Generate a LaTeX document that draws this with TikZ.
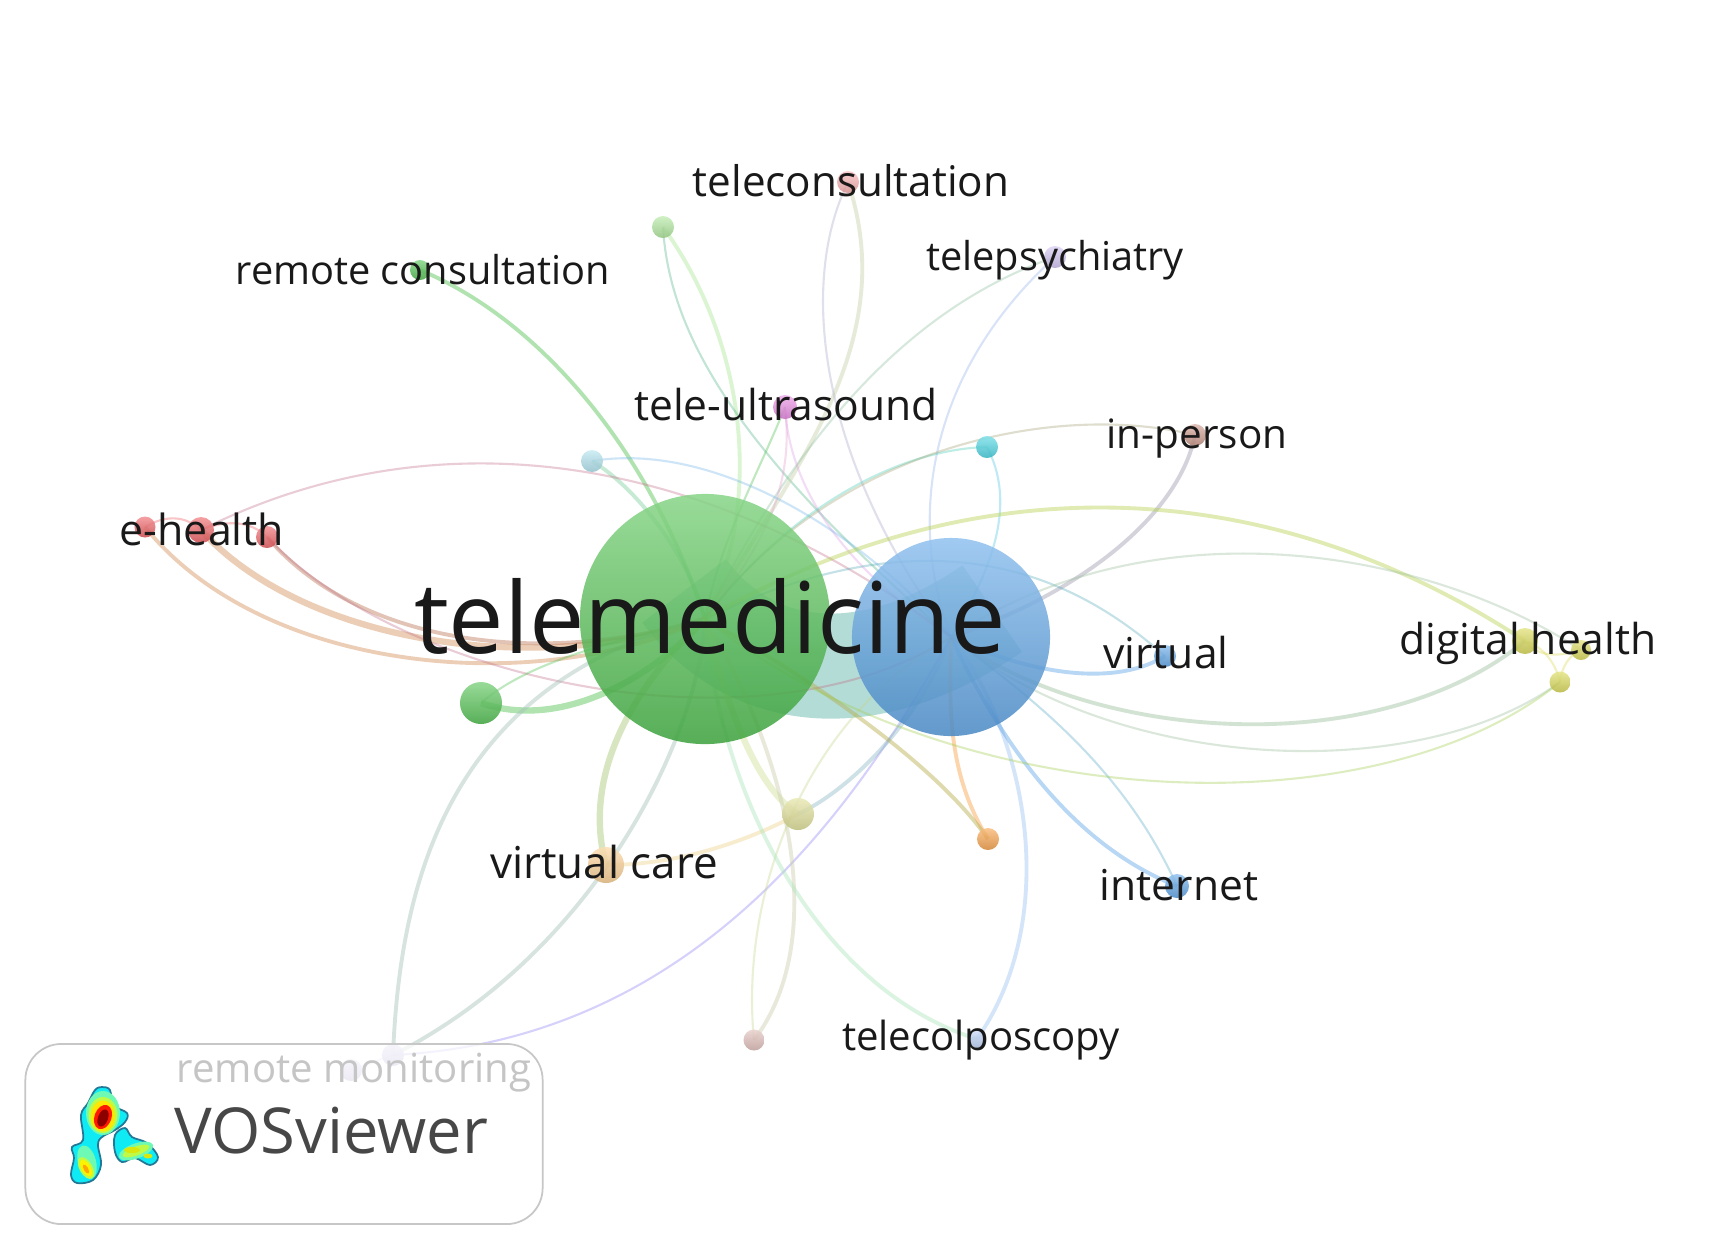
\documentclass[tikz,border=0pt]{standalone}
\usepackage{fontspec}
\setmainfont{Open Sans}
\usetikzlibrary{backgrounds}
\definecolor{cgreen}{RGB}{70,190,70}
\definecolor{cpale}{RGB}{170,230,150}
\definecolor{cblue}{RGB}{85,160,230}
\definecolor{cred}{RGB}{238,85,90}
\definecolor{cblush}{RGB}{248,170,170}
\definecolor{cpink}{RGB}{232,130,225}
\definecolor{clilac}{RGB}{205,190,240}
\definecolor{ccyan}{RGB}{60,210,225}
\definecolor{csky}{RGB}{170,225,238}
\definecolor{crust}{RGB}{200,145,130}
\definecolor{crose}{RGB}{222,185,180}
\definecolor{cyellow}{RGB}{215,215,75}
\definecolor{ckhaki}{RGB}{222,222,145}
\definecolor{ctan}{RGB}{252,205,140}
\definecolor{cpeach}{RGB}{210,140,85}
\definecolor{corange}{RGB}{248,155,60}
\definecolor{ccolpo}{RGB}{185,208,248}
\definecolor{cink}{RGB}{25,25,25}
\definecolor{heatcyan}{RGB}{15,235,245}
\definecolor{heatedge}{RGB}{35,120,150}
\definecolor{heatmint}{RGB}{110,250,180}
\definecolor{heatlime}{RGB}{190,250,70}
\tikzset{
    bubble/.style={circle,inner sep=0pt,opacity=.85,top color=#1!65!white,bottom color=#1!85!black},
    wordlabel/.style={anchor=base,inner sep=0pt,text=cink,font=\fontsize{#1}{#1}\selectfont},
    thinedge/.style={draw=#1,line width=.6pt,draw opacity=.34},
    midedge/.style={draw=#1,line width=1.1pt,draw opacity=.42},
    thickedge/.style={draw=#1,line width=1.8pt,draw opacity=.42},
}
\begin{document}
\begin{tikzpicture}[x=.01cm,y=-.01cm]
        \node[bubble=cgreen,minimum size=2.5cm] (tele) at (705,619) {};
        \node[bubble=cblue,minimum size=1.98cm] (blue) at (951,637) {};
        \node[bubble=cgreen,minimum size=.42cm] (dot) at (481,703) {};
        \node[bubble=ctan,minimum size=.36cm] (care) at (606,865) {};
        \node[bubble=ckhaki,minimum size=.32cm] (khaki) at (798,814) {};
        \node[bubble=corange,minimum size=.22cm] (orange) at (988,839) {};
        \node[bubble=cblue,minimum size=.24cm] (internet) at (1177,886) {};
        \node[bubble=cblue,minimum size=.22cm] (virtual) at (1165,656) {};
        \node[bubble=cyellow,minimum size=.26cm] (digitala) at (1525,641) {};
        \node[bubble=cyellow,minimum size=.2cm] (digitalb) at (1581,650) {};
        \node[bubble=cyellow,minimum size=.21cm] (digitalc) at (1560,682) {};
        \node[bubble=crust,minimum size=.22cm] (person) at (1195,435) {};
        \node[bubble=ccyan,minimum size=.22cm] (cyan) at (987,447) {};
        \node[bubble=cpink,minimum size=.24cm] (ultra) at (785,407) {};
        \node[bubble=csky,minimum size=.22cm] (sky) at (592,461) {};
        \node[bubble=cblush,minimum size=.22cm] (consult) at (848,182) {};
        \node[bubble=cpale,minimum size=.22cm] (pale) at (663,227) {};
        \node[bubble=cgreen,minimum size=.2cm] (remote) at (420,270) {};
        \node[bubble=clilac,minimum size=.22cm] (psych) at (1055,257) {};
        \node[bubble=cred,minimum size=.21cm] (ehealtha) at (145,527) {};
        \node[bubble=cred,minimum size=.26cm] (ehealthb) at (201,530) {};
        \node[bubble=cred,minimum size=.22cm] (ehealthc) at (267,537) {};
        \node[bubble=ccolpo,minimum size=.18cm] (colpo) at (977,1039) {};
        \node[bubble=crose,minimum size=.21cm] (rose) at (754,1040) {};
        \node[bubble=clilac,minimum size=.22cm] (monitor) at (393,1055) {};
        \node[bubble=clilac,minimum size=.22cm] (monitorb) at (351,1070) {};
        \begin{pgfonlayer}{background}
        \fill[white] (0,0) rectangle (1724,1250);
        \draw[line width=1.05cm,draw=cgreen!45!cblue,draw opacity=.42,shorten <=-.35cm,shorten >=-.5cm] (tele.center) .. controls (750,680) and (867,695) .. (blue.center);
        \draw[midedge=cgreen] (remote.center) .. controls (540,320) and (650,450) .. (tele.center);
        \draw[midedge=cpale] (pale.center) .. controls (745,340) and (765,500) .. (tele.center);
        \draw[thinedge=cgreen!60!cblue] (pale.center) .. controls (670,350) and (760,470) .. (blue.center);
        \draw[midedge=crose!50!cpale] (consult.center) .. controls (900,340) and (800,460) .. (tele.center);
        \draw[thinedge=cblush!50!cblue] (consult.center) .. controls (795,290) and (825,470) .. (blue.center);
        \draw[thinedge=clilac!50!cgreen] (psych.center) .. controls (900,310) and (790,450) .. (tele.center);
        \draw[thinedge=cblue!50!clilac] (psych.center) .. controls (920,380) and (910,530) .. (blue.center);
        \draw[thinedge=cpink!50!crose] (ultra.center) .. controls (795,490) and (760,550) .. (tele.center);
        \draw[thinedge=cpink!60!clilac] (ultra.center) .. controls (790,500) and (860,580) .. (blue.center);
        \draw[thinedge=cgreen] (ultra.center) .. controls (760,470) and (720,540) .. (tele.center);
        \draw[midedge=csky!50!cgreen] (sky.center) .. controls (640,490) and (690,560) .. (tele.center);
        \draw[thinedge=cblue!70!csky] (sky.center) .. controls (720,440) and (870,540) .. (blue.center);
        \draw[thinedge=ccyan!70!cgreen] (cyan.center) .. controls (880,450) and (770,530) .. (tele.center);
        \draw[thinedge=ccyan!70!cblue] (cyan.center) .. controls (1020,510) and (985,580) .. (blue.center);
        \draw[thinedge=crust!70!cgreen] (person.center) .. controls (1050,400) and (830,450) .. (tele.center);
        \draw[midedge=crust!60!cblue] (person.center) .. controls (1180,510) and (1090,590) .. (blue.center);
        \draw[midedge=cpeach] (ehealtha.center) .. controls (260,670) and (530,700) .. (tele.center);
        \draw[thickedge=cpeach] (ehealthb.center) .. controls (300,640) and (530,680) .. (tele.center);
        \draw[midedge=cred!70!cgreen] (ehealthc.center) .. controls (355,640) and (530,670) .. (tele.center);
        \draw[thinedge=cred!70!cblue] (ehealthb.center) .. controls (420,420) and (690,440) .. (blue.center);
        \draw[thinedge=cred!70!cblue] (ehealthc.center) .. controls (400,680) and (760,760) .. (blue.center);
        \draw[thinedge=cred] (ehealtha.center) .. controls (165,515) and (185,515) .. (ehealthb.center);
        \draw[thinedge=cred] (ehealthb.center) .. controls (225,520) and (250,520) .. (ehealthc.center);
        \draw[thickedge=cgreen] (dot.center) .. controls (560,730) and (650,680) .. (tele.center);
        \draw[thinedge=cgreen] (dot.center) .. controls (530,660) and (620,640) .. (tele.center);
        \draw[thickedge=ctan!50!cgreen] (care.center) .. controls (580,770) and (640,680) .. (tele.center);
        \draw[midedge=ctan!60!ckhaki] (care.center) .. controls (680,865) and (750,840) .. (khaki.center);
        \draw[midedge=clilac!65!cgreen] (monitor.center) .. controls (600,950) and (700,730) .. (tele.center);
        \draw[midedge=clilac!65!cgreen] (monitor.center) .. controls (400,880) and (450,680) .. (tele.center);
        \draw[thinedge=blue!35!clilac] (monitor.center) .. controls (700,1040) and (860,800) .. (blue.center);
        \draw[thinedge=clilac] (monitorb.center) -- (monitor.center);
        \draw[thickedge=ckhaki!70!cpale] (khaki.center) .. controls (760,790) and (730,720) .. (tele.center);
        \draw[midedge=ckhaki!40!cblue] (khaki.center) .. controls (850,790) and (920,720) .. (blue.center);
        \draw[midedge=crose!60!cpale] (rose.center) .. controls (830,940) and (790,760) .. (tele.center);
        \draw[thinedge=crose!40!cgreen!30!ckhaki] (rose.center) .. controls (740,900) and (800,720) .. (blue.center);
        \draw[midedge=cpale!60!csky] (colpo.center) .. controls (820,990) and (720,800) .. (tele.center);
        \draw[midedge=ccolpo!70!cblue] (colpo.center) .. controls (1060,920) and (1030,740) .. (blue.center);
        \draw[midedge=cblue] (internet.center) .. controls (1060,840) and (990,720) .. (blue.center);
        \draw[thinedge=cblue!80!cgreen] (internet.center) .. controls (1120,760) and (1020,690) .. (blue.center);
        \draw[midedge=corange] (orange.center) .. controls (945,770) and (950,700) .. (blue.center);
        \draw[midedge=corange!60!cgreen] (orange.center) .. controls (940,770) and (830,690) .. (tele.center);
        \draw[midedge=cblue] (virtual.center) .. controls (1110,690) and (1020,670) .. (blue.center);
        \draw[thinedge=cblue!70!cgreen] (virtual.center) .. controls (1090,590) and (950,500) .. (tele.center);
        \draw[midedge=cgreen!25!cyellow] (digitala.center) .. controls (1280,480) and (990,455) .. (tele.center);
        \draw[midedge=cyellow!50!cblue] (digitala.center) .. controls (1380,760) and (1100,745) .. (blue.center);
        \draw[thinedge=cyellow!50!cblue] (digitalb.center) .. controls (1420,545) and (1150,505) .. (blue.center);
        \draw[thinedge=cyellow!50!cblue] (digitalc.center) .. controls (1420,785) and (1120,775) .. (blue.center);
        \draw[thinedge=cyellow!60!cgreen] (digitalc.center) .. controls (1380,830) and (960,820) .. (tele.center);
        \draw[thinedge=cyellow] (digitala.center) .. controls (1540,660) and (1565,655) .. (digitalb.center);
        \draw[thinedge=cyellow] (digitala.center) .. controls (1540,645) and (1555,660) .. (digitalc.center);
        \draw[thinedge=cyellow] (digitalb.center) .. controls (1570,655) and (1562,665) .. (digitalc.center);
        \end{pgfonlayer}
        \node[wordlabel=28.1] (telelabel) at (710,653) {telemedicine};
        \node[wordlabel=11.3] (remotelabel) at (423,284) {remote consultation};
        \node[wordlabel=12] (consultlabel) at (851,196) {teleconsultation};
        \node[wordlabel=11.3] (psychlabel) at (1055,270) {telepsychiatry};
        \node[wordlabel=12.1] (ultralabel) at (786,420) {tele-ultrasound};
        \node[wordlabel=11.5] (personlabel) at (1197,448) {in-person};
        \node[wordlabel=12.2] (ehealthlabel) at (202,545) {e-health};
        \node[wordlabel=12.1] (virtuallabel) at (1166,668) {virtual};
        \node[wordlabel=12.1] (digitallabel) at (1528,654) {digital health};
        \node[wordlabel=12.5] (carelabel) at (604,878) {virtual care};
        \node[wordlabel=12.1] (internetlabel) at (1179,900) {internet};
        \node[wordlabel=11.4] (colpolabel) at (981,1050) {telecolposcopy};
        \node[wordlabel=11.4] (monitorlabel) at (354,1082) {remote monitoring};
        \node[draw=black!22,line width=.5pt,fill=white,fill opacity=.75,rounded corners=.36cm,minimum width=5.17cm,minimum height=1.8cm,inner sep=0pt] (legend) at (284,1134) {};
        \filldraw[draw=heatedge,line width=.5pt,fill=heatcyan,smooth cycle,tension=.6] plot coordinates {(102,1087) (110,1090) (113,1105) (127,1113) (125,1122) (115,1130) (102,1137) (98,1145) (101,1165) (93,1180) (77,1183) (71,1175) (74,1158) (72,1147) (83,1140) (81,1115) (88,1103) (95,1090)};
        \filldraw[draw=heatedge,line width=.5pt,fill=heatcyan,smooth cycle,tension=.6] plot coordinates {(125,1128) (132,1137) (147,1143) (158,1157) (150,1165) (135,1158) (122,1162) (115,1152) (115,1135)};
        \fill[heatmint,rotate around={15:(87,1162)}] (87,1162) ellipse (.09cm and .17cm);
        \fill[heatlime,rotate around={30:(86,1168)}] (86,1168) ellipse (.065cm and .12cm);
        \fill[yellow,rotate around={30:(86,1168)}] (86,1168) ellipse (.045cm and .09cm);
        \fill[orange!70!yellow,rotate around={30:(86,1169)}] (86,1169) ellipse (.022cm and .05cm);
        \fill[heatmint,rotate around={20:(136,1151)}] (136,1151) ellipse (.18cm and .075cm);
        \fill[heatlime,rotate around={20:(136,1151)}] (136,1151) ellipse (.14cm and .045cm);
        \fill[yellow!85!green] (132,1150) ellipse (.08cm and .03cm);
        \fill[yellow!85!green] (148,1156) ellipse (.045cm and .025cm);
        \fill[heatmint] (103,1113) ellipse (.17cm and .22cm);
        \fill[heatlime] (103,1115) ellipse (.145cm and .18cm);
        \fill[yellow!90!orange] (103,1116) ellipse (.12cm and .155cm);
        \fill[red!90!yellow,rotate around={-20:(103,1117)}] (103,1117) ellipse (.085cm and .125cm);
        \fill[red!55!black,rotate around={-20:(103,1118)}] (103,1118) ellipse (.05cm and .09cm);
        \node[anchor=base,inner sep=0pt,text=black!72,font=\fontsize{18}{18}\selectfont] (vos) at (331,1153) {VOSviewer};
\end{tikzpicture}
\end{document}
